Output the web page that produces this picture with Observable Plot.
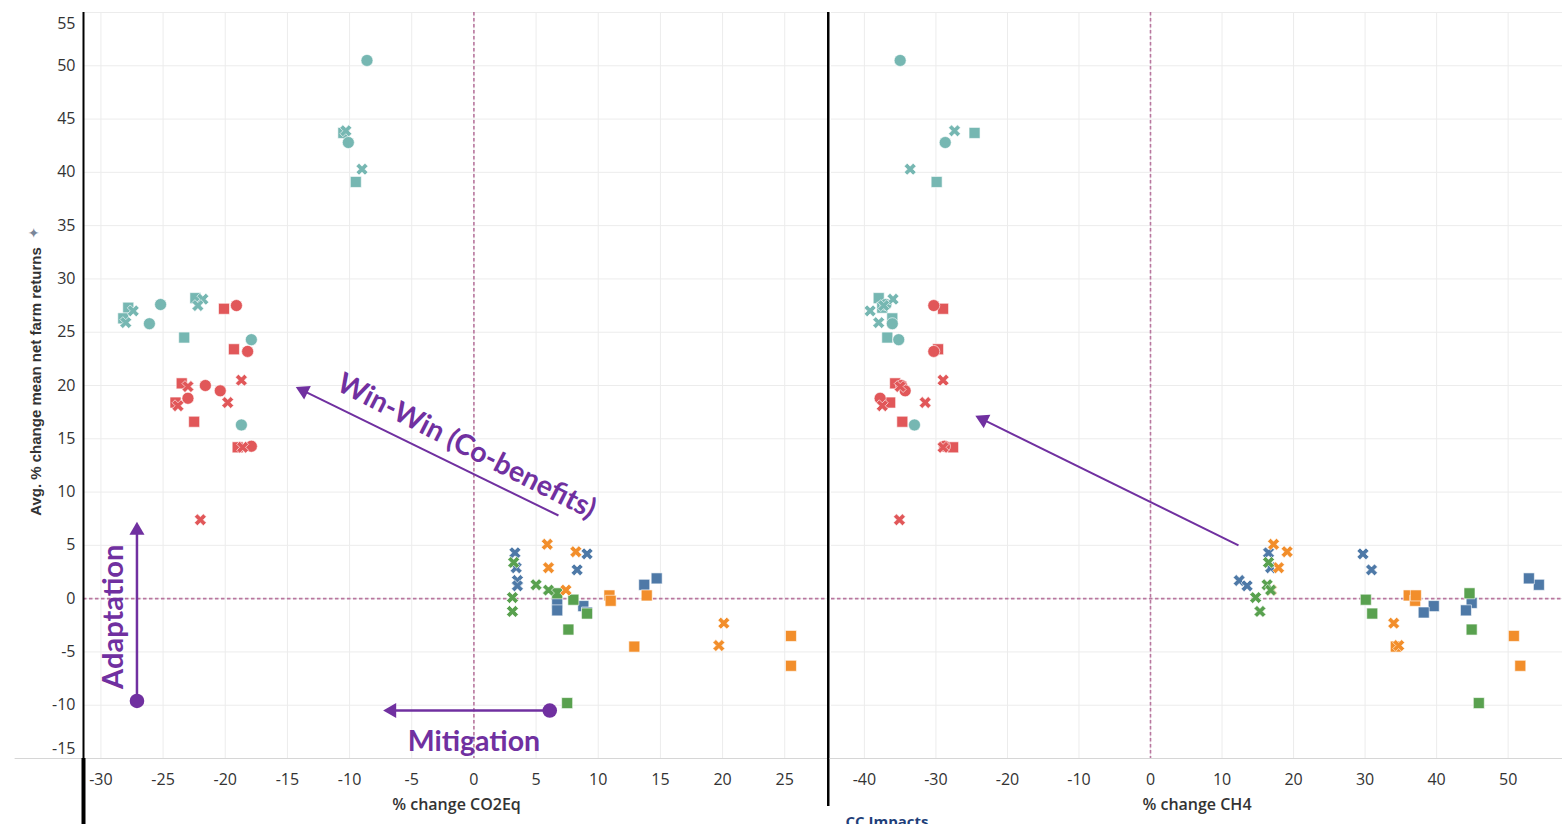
<!DOCTYPE html>
<html>
<head>
<meta charset="utf-8">
<script src="https://cdn.jsdelivr.net/npm/d3@7"></script>
<script src="https://cdn.jsdelivr.net/npm/@observablehq/plot@0.6"></script>
<style>
  html, body { margin: 0; padding: 0; background: #fff; overflow: hidden; }
  #wrap { position: relative; width: 1562px; height: 824px; }
  #left { position: absolute; left: 0; top: 0; }
  #right { position: absolute; left: 830px; top: 0; }
</style>
</head>
<body>
<div id="wrap"><div id="left"></div><div id="right"></div></div>
<script>
// ---------------- data ----------------
const groupNames = ["Impact 1", "Impact 2", "Impact 3", "Impact 4", "Impact 5"];
const groupColors = ["#76b7b2", "#e15759", "#4e79a7", "#f28e2b", "#59a14f"];

const group = [
  // teal
  "Impact 1","Impact 1","Impact 1","Impact 1","Impact 1","Impact 1","Impact 1","Impact 1","Impact 1",
  "Impact 1","Impact 1","Impact 1","Impact 1","Impact 1","Impact 1","Impact 1","Impact 1","Impact 1",
  // red
  "Impact 2","Impact 2","Impact 2","Impact 2","Impact 2","Impact 2","Impact 2","Impact 2","Impact 2",
  "Impact 2","Impact 2","Impact 2","Impact 2","Impact 2","Impact 2","Impact 2","Impact 2","Impact 2",
  // blue
  "Impact 3","Impact 3","Impact 3","Impact 3","Impact 3","Impact 3",
  "Impact 3","Impact 3","Impact 3","Impact 3","Impact 3","Impact 3",
  // orange
  "Impact 4","Impact 4","Impact 4","Impact 4","Impact 4","Impact 4",
  "Impact 4","Impact 4","Impact 4","Impact 4","Impact 4","Impact 4",
  // green
  "Impact 5","Impact 5","Impact 5","Impact 5","Impact 5",
  "Impact 5","Impact 5","Impact 5","Impact 5","Impact 5"
];
const shape = [
  // teal
  "circle","square","cross","circle","cross","square","square","cross","cross",
  "square","cross","circle","square","cross","circle","square","circle","circle",
  // red
  "square","circle","square","circle","cross","square","cross","circle","circle",
  "cross","square","cross","circle","square","square","cross","circle","cross",
  // blue
  "cross","cross","cross","cross","cross","cross",
  "square","square","square","square","square","square",
  // orange
  "cross","cross","cross","cross","cross","cross",
  "square","square","square","square","square","square",
  // green
  "cross","cross","cross","cross","cross",
  "square","square","square","square","square"
];
const changeCO2Eq = [
  -8.6,-10.5,-10.3,-10.1,-9.0,-9.5,-22.4,-21.8,-22.2,
  -27.8,-27.4,-25.2,-28.2,-28.0,-26.1,-23.3,-17.9,-18.7,
  -20.1,-19.1,-19.3,-18.2,-18.7,-23.5,-23.0,-21.6,-20.4,
  -19.8,-24.0,-23.8,-23.0,-22.5,-19.0,-18.6,-17.9,-22.0,
  3.3,3.4,3.5,3.5,9.1,8.3,
  6.7,6.7,8.8,9.1,13.7,14.7,
  5.9,6.0,7.4,8.2,20.1,19.7,
  10.9,11.0,13.9,12.9,25.5,25.5,
  3.2,3.1,3.1,5.0,6.0,
  6.7,8.0,9.1,7.6,7.5
];
const changeCH4 = [
  -35.0,-24.6,-27.4,-28.7,-33.6,-29.9,-38.0,-36.0,-37.3,
  -37.5,-39.2,-37.0,-36.1,-38.0,-36.1,-36.8,-35.2,-33.0,
  -29.0,-30.3,-29.7,-30.3,-29.0,-35.7,-35.0,-34.8,-34.3,
  -31.5,-36.4,-37.5,-37.8,-34.7,-27.6,-29.0,-28.8,-35.1,
  16.5,16.8,12.4,13.5,29.7,30.9,
  44.9,44.1,39.6,38.2,54.3,52.9,
  17.2,17.9,16.9,19.1,34.0,34.7,
  36.1,37.0,37.1,34.3,50.8,51.7,
  16.5,14.7,15.3,16.3,16.8,
  44.6,30.1,31.0,44.9,45.9
];
const netReturns = [
  50.5,43.7,43.9,42.8,40.3,39.1,28.2,28.1,27.5,
  27.3,27.0,27.6,26.3,25.9,25.8,24.5,24.3,16.3,
  27.2,27.5,23.4,23.2,20.5,20.2,19.9,20.0,19.5,
  18.4,18.4,18.1,18.8,16.6,14.2,14.2,14.3,7.4,
  4.3,2.9,1.7,1.2,4.2,2.7,
  -0.4,-1.1,-0.7,-1.3,1.3,1.9,
  5.1,2.9,0.8,4.4,-2.3,-4.4,
  0.3,-0.2,0.3,-4.5,-3.5,-6.3,
  3.4,0.1,-1.2,1.3,0.8,
  0.5,-0.1,-1.4,-2.9,-9.8
];

const xTicksCO2 = [-30,-25,-20,-15,-10,-5,0,5,10,15,20,25];
const xTicksCH4 = [-40,-30,-20,-10,0,10,20,30,40,50];
const yTicks = [-15,-10,-5,0,5,10,15,20,25,30,35,40,45,50,55];

const xTitleLeft = "% change CO2Eq";
const xTitleRight = "% change CH4";
const yTitle = "Avg. % change mean net farm returns";
const legendTitle = "CC Impacts";
const annAdaptation = "Adaptation";
const annMitigation = "Mitigation";
const annWinWin = "Win-Win (Co-benefits)";

// ---------------- build ----------------
const rows = group.map((g, i) => ({
  group: g, shape: shape[i], co2: changeCO2Eq[i], ch4: changeCH4[i], ret: netReturns[i]
}));

const PURPLE = "#7030a0";
const REF = "#b9779f";
const GRID = "#ececec";
const FONT = "'Open Sans', sans-serif";
const ANNFONT = "Lato, 'Open Sans', sans-serif";
const Y_DOMAIN = [-15, 55];
const XL = [-31.4, 28.6];
const XR = [-44.6, 57.6];
const fmt = d => `${d}`;

function markers(xField) {
  const common = {x: xField, y: "ret", fill: "group", stroke: "white", strokeWidth: 0.6};
  return [
    Plot.dot(rows.filter(d => d.shape === "square"), {...common, symbol: "square", r: 6.2}),
    Plot.dot(rows.filter(d => d.shape === "circle"), {...common, symbol: "circle", r: 6}),
    Plot.dot(rows.filter(d => d.shape === "cross"), {...common, symbol: "cross", r: 5.3, rotate: 45})
  ];
}

const refStyle = {stroke: REF, strokeWidth: 1.6, strokeDasharray: "3.5,2.5"};
const tickOpts = {tickSize: 0, fontSize: 16, tickFormat: fmt};

const left = Plot.plot({
  width: 830, height: 824,
  marginLeft: 83, marginRight: 1, marginTop: 12, marginBottom: 66,
  x: {domain: XL, axis: null},
  y: {domain: Y_DOMAIN, axis: null},
  color: {domain: groupNames, range: groupColors},
  style: {fontFamily: FONT, fontSize: "16px", color: "#333", background: "white", overflow: "visible"},
  marks: [
    Plot.gridX(xTicksCO2, {stroke: GRID, strokeOpacity: 1}),
    Plot.gridY(yTicks, {stroke: GRID, strokeOpacity: 1}),
    Plot.ruleY([-15], {x1: -36.9, x2: XL[1], stroke: "#d6d6d6"}),
    Plot.ruleX([0], refStyle),
    Plot.ruleY([0], refStyle),
    Plot.axisX(xTicksCO2, {...tickOpts, tickPadding: 15}),
    Plot.axisY(yTicks.filter(v => v > -15 && v < 55), {...tickOpts, tickPadding: 8}),
    Plot.axisY([55], {...tickOpts, tickPadding: 8, dy: 11}),
    Plot.axisY([-15], {...tickOpts, tickPadding: 8, dy: -10}),
    Plot.text([xTitleLeft], {frameAnchor: "bottom", dy: 51, fontWeight: 600, fontSize: 16, fill: "#333"}),
    Plot.text([yTitle], {frameAnchor: "left", textAnchor: "middle", dx: -47, dy: -4, rotate: -90, fontFamily: "'Liberation Sans', Arial, sans-serif", fontWeight: 600, fontSize: 15, fill: "#333"}),
    Plot.text(["✦"], {frameAnchor: "left", textAnchor: "middle", dx: -50, dy: -152, fontSize: 14, fill: "#7a8699", fontFamily: "DejaVu Sans"}),
    // thick black separators
    Plot.ruleX([XL[0]], {y1: 55, y2: -15, stroke: "black", strokeWidth: 2}),
    Plot.ruleX([XL[0]], {y1: -15, y2: -21.3, stroke: "black", strokeWidth: 4}),
    Plot.ruleX([28.5], {y1: 55, y2: -19.5, stroke: "black", strokeWidth: 2.5}),
    ...markers("co2"),
    // Adaptation arrow
    Plot.link([{x1: -27.1, y1: -9.6, x2: -27.1, y2: 6.4}], {x1: "x1", y1: "y1", x2: "x2", y2: "y2", stroke: PURPLE, strokeWidth: 2.5}),
    Plot.dot([{x: -27.1, y: -9.6}], {x: "x", y: "y", r: 7.3, fill: PURPLE}),
    Plot.dot([{x: -27.1, y: 6.4}], {x: "x", y: "y", r: 5.6, symbol: "triangle", fill: PURPLE}),
    Plot.text([{x: -29.0, y: -1.7}], {x: "x", y: "y", text: () => annAdaptation, rotate: -90, fontFamily: ANNFONT, fontWeight: 700, fontSize: 29, fill: PURPLE}),
    // Mitigation arrow
    Plot.link([{x1: 6.1, y1: -10.5, x2: -6.6, y2: -10.5}], {x1: "x1", y1: "y1", x2: "x2", y2: "y2", stroke: PURPLE, strokeWidth: 2.5}),
    Plot.dot([{x: 6.1, y: -10.5}], {x: "x", y: "y", r: 7.3, fill: PURPLE}),
    Plot.dot([{x: -6.6, y: -10.5}], {x: "x", y: "y", r: 5.6, symbol: "triangle", rotate: -90, fill: PURPLE}),
    Plot.text([{x: 0, y: -13.4}], {x: "x", y: "y", text: () => annMitigation, fontFamily: ANNFONT, fontWeight: 700, fontSize: 28.5, fill: PURPLE}),
    // Win-Win arrow
    Plot.link([{x1: 6.8, y1: 7.8, x2: -13.7, y2: 19.5}], {x1: "x1", y1: "y1", x2: "x2", y2: "y2", stroke: PURPLE, strokeWidth: 2}),
    Plot.dot([{x: -13.7, y: 19.5}], {x: "x", y: "y", r: 5.6, symbol: "triangle", rotate: -63.8, fill: PURPLE}),
    Plot.text([{x: -0.6, y: 14.3}], {x: "x", y: "y", text: () => annWinWin, rotate: 27, fontFamily: ANNFONT, fontWeight: 700, fontSize: 28.5, fill: PURPLE})
  ]
});

const right = Plot.plot({
  width: 732, height: 824,
  marginLeft: 1, marginRight: 0, marginTop: 12, marginBottom: 66,
  x: {domain: XR, axis: null},
  y: {domain: Y_DOMAIN, axis: null},
  color: {domain: groupNames, range: groupColors},
  style: {fontFamily: FONT, fontSize: "16px", color: "#333", background: "white", overflow: "visible"},
  marks: [
    Plot.gridX(xTicksCH4, {stroke: GRID, strokeOpacity: 1}),
    Plot.gridY(yTicks, {stroke: GRID, strokeOpacity: 1}),
    Plot.ruleY([-15], {x1: XR[0] - 0.2, x2: XR[1], stroke: "#d6d6d6"}),
    Plot.ruleX([0], refStyle),
    Plot.ruleY([0], refStyle),
    Plot.axisX(xTicksCH4, {...tickOpts, tickPadding: 15}),
    Plot.text([xTitleRight], {frameAnchor: "bottom", dy: 51, fontWeight: 600, fontSize: 16, fill: "#333"}),
    Plot.text([legendTitle], {frameAnchor: "bottom-left", dx: 14, dy: 58, lineAnchor: "top", textAnchor: "start", fontWeight: 700, fontSize: 15, fill: "#1f3f7a"}),
    ...markers("ch4"),
    Plot.link([{x1: 12.3, y1: 5.0, x2: -23.4, y2: 16.8}], {x1: "x1", y1: "y1", x2: "x2", y2: "y2", stroke: PURPLE, strokeWidth: 2}),
    Plot.dot([{x: -23.4, y: 16.8}], {x: "x", y: "y", r: 5.6, symbol: "triangle", rotate: -63.8, fill: PURPLE})
  ]
});

document.getElementById("left").appendChild(left);
document.getElementById("right").appendChild(right);
</script>
</body>
</html>
